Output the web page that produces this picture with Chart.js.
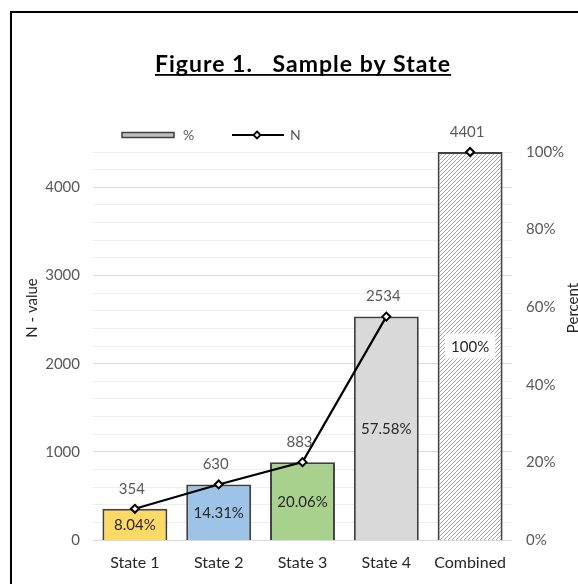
<!DOCTYPE html>
<html>
<head>
<meta charset="utf-8">
<script src="https://cdn.jsdelivr.net/npm/chart.js@4/dist/chart.umd.min.js"></script>
<style>
  html, body { margin: 0; padding: 0; background: #fff; width: 578px; height: 584px; overflow: hidden; }
  #frame { position: absolute; left: 10px; top: 11px; width: 700px; height: 700px;
           border-left: 2px solid #000; border-top: 2px solid #000; box-sizing: border-box; }
  #wrap { position: absolute; left: 0; top: 0; width: 578px; height: 584px; }
</style>
</head>
<body>
<div id="frame"></div>
<div id="wrap"><canvas id="chart" width="578" height="584"></canvas></div>
<script>
// Sample counts and shares per state
const categories = ['State 1', 'State 2', 'State 3', 'State 4', 'Combined'];
const nValues = [354, 630, 883, 2534, 4401];
const pctValues = [8.04, 14.31, 20.06, 57.58, 100];
const nTickLabels = [0, 1000, 2000, 3000, 4000];
const nGridValues = [0, 200, 400, 600, 800, 1000, 1200, 1400, 1600, 1800, 2000, 2200,
                     2400, 2600, 2800, 3000, 3200, 3400, 3600, 3800, 4000, 4200, 4400];
const pctTickLabels = [0, 20, 40, 60, 80, 100];
const barColors = ['#FFD966', '#9DC3E6', '#A9D18E', '#D9D9D9'];
const totalLabel = 'Combined';

const FONT = 'Lato, "Open Sans", sans-serif';
Chart.defaults.font.family = FONT;

// Diagonal hatch for the combined bar
function hatch() {
  const c = document.createElement('canvas');
  c.width = 4; c.height = 4;
  const g = c.getContext('2d');
  g.fillStyle = '#ffffff';
  g.fillRect(0, 0, 4, 4);
  g.strokeStyle = '#a6a6a6';
  g.lineWidth = 1;
  g.beginPath();
  g.moveTo(0, 4); g.lineTo(4, 0);
  g.moveTo(-1, 1); g.lineTo(1, -1);
  g.moveTo(3, 5); g.lineTo(5, 3);
  g.stroke();
  return g.createPattern(c, 'repeat');
}

const ctx0 = document.getElementById('chart').getContext('2d');

// Title, legend, axis titles and value labels
const decor = {
  id: 'decor',
  afterDatasetsDraw(chart) {
    const { ctx } = chart;
    ctx.save();
    // percent labels centred inside the bars
    const barMeta = chart.getDatasetMeta(1);
    barMeta.data.forEach((el, i) => {
      const txt = pctValues[i] + '%';
      const cy = (el.y + el.base) / 2;
      ctx.font = '15px ' + FONT;
      ctx.textAlign = 'center';
      ctx.textBaseline = 'middle';
      if (categories[i] === totalLabel) {
        const w = ctx.measureText(txt).width + 12;
        ctx.fillStyle = '#ffffff';
        ctx.fillRect(el.x - w / 2, cy - 12.5, w, 25);
      }
      ctx.fillStyle = '#262626';
      ctx.fillText(txt, el.x, cy + 1);
    });
    // N labels above the line points
    const lineMeta = chart.getDatasetMeta(0);
    lineMeta.data.forEach((el, i) => {
      ctx.font = '15px ' + FONT;
      ctx.textAlign = 'center';
      ctx.textBaseline = 'middle';
      ctx.fillStyle = '#595959';
      ctx.fillText(String(nValues[i]), el.x - 3, el.y - 20);
    });
    ctx.restore();
  },
  afterDraw(chart) {
    const { ctx, chartArea } = chart;
    ctx.save();
    // title
    const title = 'Figure 1.   Sample by State';
    ctx.font = 'bold 23px ' + FONT;
    ctx.letterSpacing = '1px';
    ctx.fillStyle = '#000';
    ctx.textAlign = 'center';
    ctx.textBaseline = 'alphabetic';
    const tx = 303, ty = 72;
    ctx.fillText(title, tx, ty);
    const tw = ctx.measureText(title).width;
    ctx.fillRect(tx - tw / 2, ty + 2, tw, 1.8);
    ctx.letterSpacing = '0px';

    // legend
    const ly = 135;
    ctx.fillStyle = '#bfbfbf';
    ctx.fillRect(122, ly - 2.5, 52, 5);
    ctx.strokeStyle = '#404040';
    ctx.lineWidth = 1.5;
    ctx.strokeRect(122, ly - 2.5, 52, 5);
    ctx.font = '14px ' + FONT;
    ctx.fillStyle = '#595959';
    ctx.textAlign = 'left';
    ctx.textBaseline = 'middle';
    ctx.fillText('%', 183, ly);
    ctx.strokeStyle = '#000';
    ctx.lineWidth = 2;
    ctx.beginPath();
    ctx.moveTo(232, ly); ctx.lineTo(284, ly);
    ctx.stroke();
    ctx.beginPath();
    ctx.moveTo(257, ly - 3.5); ctx.lineTo(260.5, ly); ctx.lineTo(257, ly + 3.5); ctx.lineTo(253.5, ly);
    ctx.closePath();
    ctx.fillStyle = '#fff';
    ctx.fill();
    ctx.lineWidth = 1.8;
    ctx.stroke();
    ctx.fillStyle = '#595959';
    ctx.fillText('N', 290, ly);

    // axis titles
    const midY = (chartArea.top + chartArea.bottom) / 2;
    ctx.font = '15px ' + FONT;
    ctx.fillStyle = '#262626';
    ctx.textAlign = 'center';
    ctx.textBaseline = 'middle';
    ctx.translate(32, midY - 38);
    ctx.rotate(-Math.PI / 2);
    ctx.fillText('N - value', 0, 0);
    ctx.setTransform(1, 0, 0, 1, 0, 0);
    ctx.translate(573, midY - 38);
    ctx.rotate(-Math.PI / 2);
    ctx.fillText('Percent', 0, 0);
    ctx.restore();
  }
};

new Chart(ctx0, {
  data: {
    labels: categories,
    datasets: [
      {
        type: 'line',
        label: 'N',
        data: nValues,
        yAxisID: 'yN',
        order: 0,
        borderColor: '#000',
        borderWidth: 2.2,
        // the total is shown as a lone marker, not joined to the states
        segment: {
          borderColor: s => categories[s.p1DataIndex] === totalLabel ? 'rgba(0,0,0,0)' : '#000'
        },
        pointStyle: 'rectRot',
        pointRadius: 4,
        pointBorderWidth: 2,
        pointBackgroundColor: '#fff',
        pointBorderColor: '#000',
        clip: false,
        tension: 0
      },
      {
        type: 'bar',
        label: '%',
        data: pctValues,
        yAxisID: 'yP',
        order: 1,
        backgroundColor: [...barColors, hatch()],
        borderColor: '#404040',
        borderWidth: 2,
        barPercentage: 0.775,
        categoryPercentage: 1
      }
    ]
  },
  options: {
    responsive: false,
    animation: false,
    layout: { padding: { top: 152, left: 0, right: 0, bottom: 0 } },
    plugins: { legend: { display: false }, tooltip: { enabled: false }, title: { display: false } },
    scales: {
      x: {
        grid: { display: false, drawTicks: false },
        border: { display: false },
        ticks: { color: '#262626', font: { size: 16 }, padding: 13 },
        afterFit(s) { s.height = 44; }
      },
      yN: {
        position: 'left',
        min: 0,
        max: Math.max(...nValues),
        border: { display: false },
        grid: {
          drawTicks: false,
          color: c => (c.tick && nTickLabels.includes(Math.round(c.tick.value))) ? '#d9d9d9' : '#eeeeee',
          lineWidth: 1
        },
        afterBuildTicks(s) { s.ticks = nGridValues.map(v => ({ value: v })); },
        ticks: {
          autoSkip: false,
          color: '#595959',
          font: { size: 15 },
          padding: 13,
          callback: v => nTickLabels.includes(Math.round(v)) ? String(Math.round(v)) : ''
        },
        afterFit(s) { s.width = 93; }
      },
      yP: {
        position: 'right',
        min: 0,
        max: 100,
        border: { display: false },
        grid: { display: false, drawTicks: false },
        ticks: {
          stepSize: 20,
          color: '#595959',
          font: { size: 15 },
          padding: 14,
          callback: v => pctTickLabels.includes(v) ? v + '%' : ''
        },
        afterFit(s) { s.width = 66; }
      }
    }
  },
  plugins: [decor]
});
</script>
</body>
</html>
